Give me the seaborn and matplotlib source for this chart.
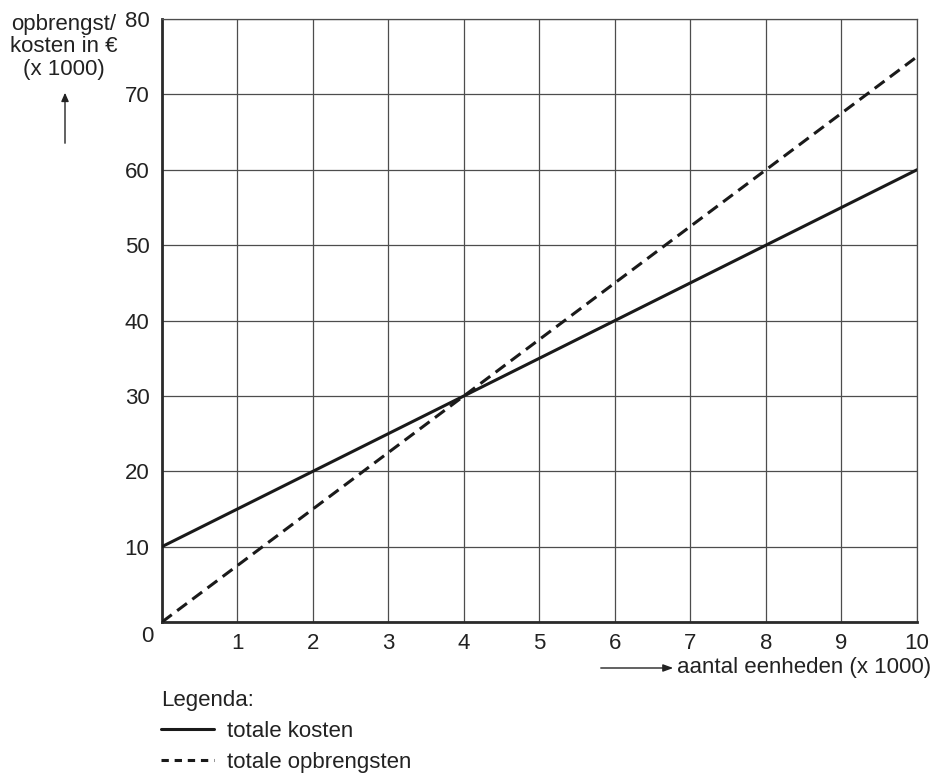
import matplotlib
matplotlib.use("Agg")
import matplotlib.pyplot as plt
import seaborn as sns
import pandas as pd
from matplotlib.lines import Line2D

sns.set_theme(style="white")
plt.rcParams['font.family'] = ['Liberation Sans', 'DejaVu Sans']

aantal = [0, 2, 4, 6, 8, 10]
totale_kosten = [10, 20, 30, 40, 50, 60]
totale_opbrengsten = [0, 15, 30, 45, 60, 75]
x_ticks = [0, 1, 2, 3, 4, 5, 6, 7, 8, 9, 10]
y_ticks = [0, 10, 20, 30, 40, 50, 60, 70, 80]
series_names = ["totale kosten", "totale opbrengsten"]

FS = 16
TXT = "#222222"

df = pd.DataFrame({
    "x": aantal * 2,
    "y": totale_kosten + totale_opbrengsten,
    "serie": [series_names[0]] * len(aantal) + [series_names[1]] * len(aantal),
})

fig = plt.figure(figsize=(9.32, 7.73), dpi=100)
ax = fig.add_axes([0.1738, 0.1953, 0.8101, 0.7801])

sns.lineplot(data=df, x="x", y="y", hue="serie", style="serie",
             palette=["#1a1a1a", "#1a1a1a"],
             dashes={series_names[0]: "", series_names[1]: (4, 2.2)},
             linewidth=2.2, ax=ax, legend=False, zorder=3)

ax.set_xlim(0, 10)
ax.set_ylim(0, 80)
ax.set_xticks(x_ticks)
ax.set_yticks(y_ticks)
ax.set_xticklabels(["" if v == 0 else str(v) for v in x_ticks], fontsize=FS, color=TXT)
ax.set_yticklabels(["" if v == 0 else str(v) for v in y_ticks], fontsize=FS, color=TXT)
ax.tick_params(axis="both", which="major", length=6, width=1.2, color="#333333", direction="out")
ax.tick_params(axis="x", pad=2)
ax.tick_params(axis="y", pad=3)
ax.grid(True, color="#4d4d4d", linewidth=0.9)
ax.set_axisbelow(True)
ax.set_xlabel("")
ax.set_ylabel("")
for side in ["left", "bottom"]:
    ax.spines[side].set_color("#2a2a2a")
    ax.spines[side].set_linewidth(2.0)
for side in ["top", "right"]:
    ax.spines[side].set_color("#4d4d4d")
    ax.spines[side].set_linewidth(0.9)

# corner zero
fig.text(147 / 932, 1 - 636 / 773, "0", fontsize=FS, color=TXT, ha="center", va="center")

# y-axis label and arrow
fig.text(64 / 932, 1 - 47 / 773, "opbrengst/\nkosten in €\n(x 1000)", fontsize=FS,
         color=TXT, ha="center", va="center", linespacing=1.1)
fig.add_artist(matplotlib.patches.FancyArrowPatch(
    (65 / 932, 1 - 146 / 773), (65 / 932, 1 - 90 / 773), transform=fig.transFigure,
    arrowstyle="-|>,head_length=5,head_width=2.2", color=TXT, linewidth=1.0))

# x-axis label and arrow
fig.text(931 / 932, 1 - 667 / 773, "aantal eenheden (x 1000)", fontsize=FS,
         color=TXT, ha="right", va="center")
fig.add_artist(matplotlib.patches.FancyArrowPatch(
    (598 / 932, 1 - 668 / 773), (676 / 932, 1 - 668 / 773), transform=fig.transFigure,
    arrowstyle="-|>,head_length=6,head_width=2.2", color=TXT, linewidth=1.0))

# legend
handles = [Line2D([], [], color="#1a1a1a", linewidth=2.2),
           Line2D([], [], color="#1a1a1a", linewidth=2.2, dashes=(2.4, 1.9))]
leg = fig.legend(handles, series_names, loc="upper left",
                 bbox_to_anchor=(161 / 932, 1 - 690 / 773), frameon=False,
                 title="Legenda:", fontsize=FS, title_fontsize=FS,
                 handlelength=2.4, handletextpad=0.55, labelspacing=0.45,
                 borderpad=0.0, borderaxespad=0.0)
leg._legend_box.align = "left"
for t in leg.get_texts():
    t.set_color(TXT)
leg.get_title().set_color(TXT)

fig.savefig("out.png", dpi=100)
